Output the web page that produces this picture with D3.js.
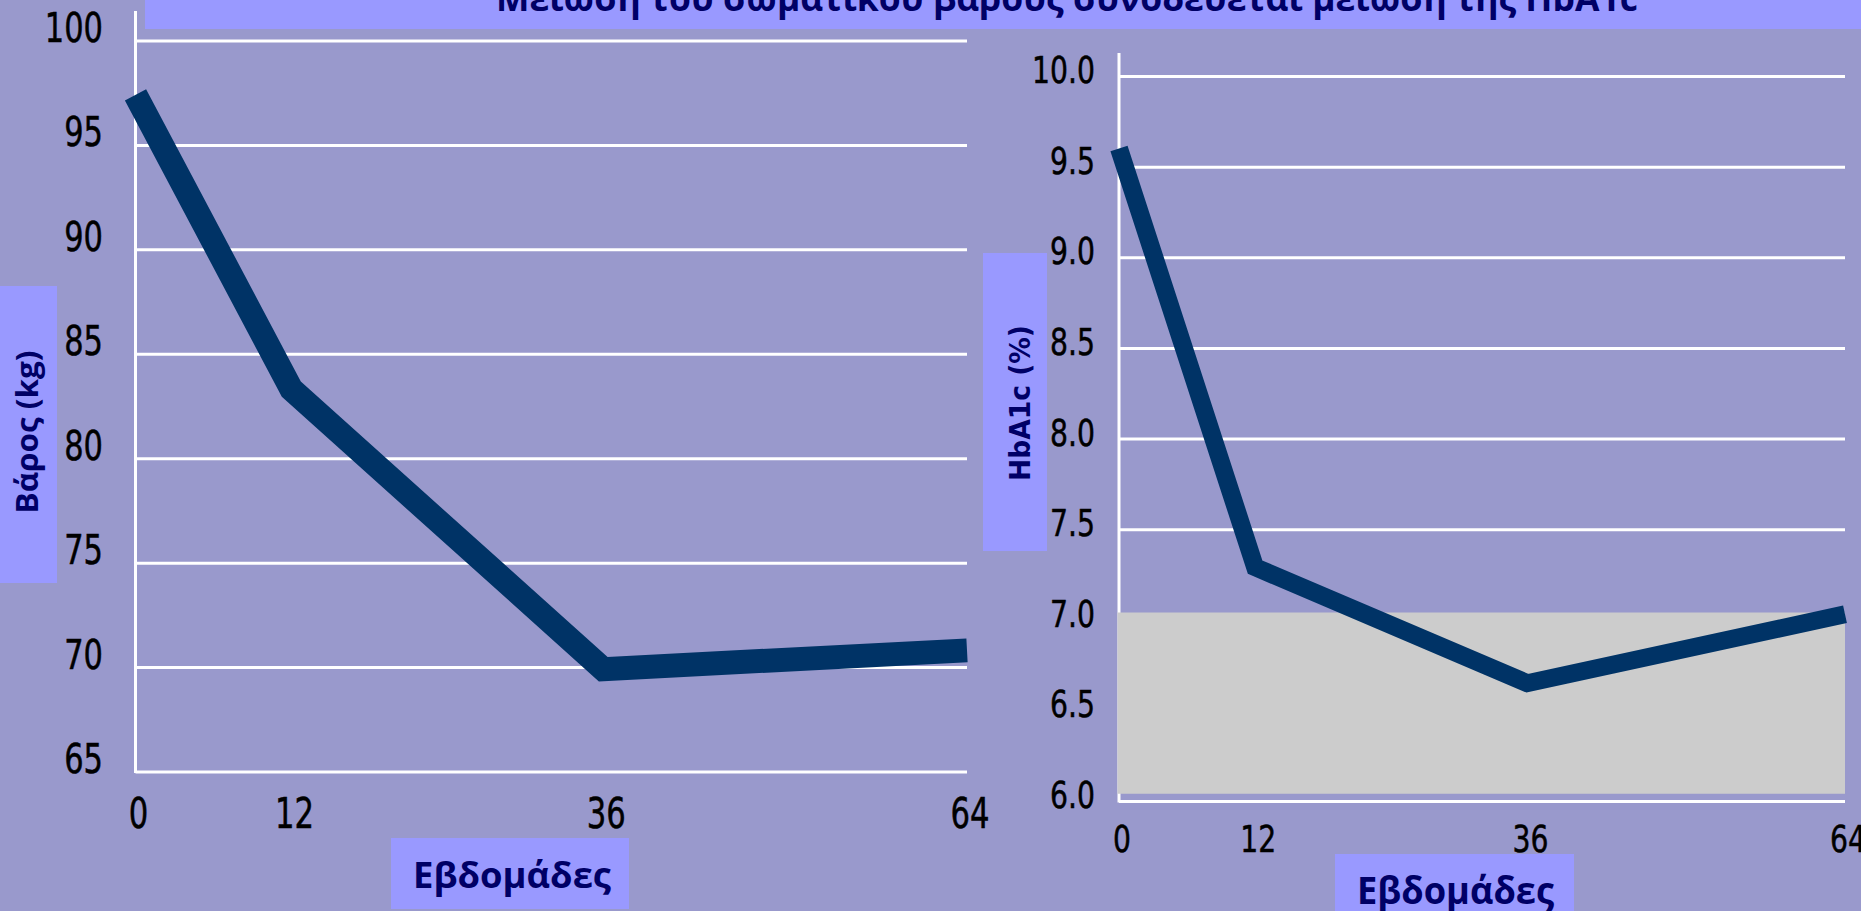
<!DOCTYPE html>
<html>
<head>
<meta charset="utf-8">
<script src="https://cdn.jsdelivr.net/npm/d3@7"></script>
<style>
  html, body { margin: 0; padding: 0; background: #9999cc; overflow: hidden; }
  svg { display: block; }
</style>
</head>
<body>
<svg id="chart" width="1861" height="911"></svg>
<script>
// ---- data ----
const weeks = [0, 12, 36, 64];
const weightKg = [97.4, 83.3, 69.9, 70.8];
const hba1cPct = [9.6, 7.29, 6.65, 7.03];
const weightTicks = [65, 70, 75, 80, 85, 90, 95, 100];
const hba1cTicks = [6.0, 6.5, 7.0, 7.5, 8.0, 8.5, 9.0, 9.5, 10.0];
const targetBand = [6.04, 7.04];   // shaded HbA1c target zone
const titleText = "Μείωση του σωματικού βάρους συνοδεύεται μείωση της HbA1c";
const weightLabel = "Βάρος (kg)";
const hba1cLabel = "HbA1c (%)";
const weeksLabel = "Εβδομάδες";

// ---- palette ----
const BG = "#9999cc", BOX = "#9999ff", NAVY = "#000066", LINE = "#003366", GRID = "#ffffff", BAND = "#cccccc";
const TITLE_FONT = "'Open Sans', 'Noto Sans', sans-serif";
const DIGIT_FONT = "'DejaVu Sans', Verdana, sans-serif";

const svg = d3.select("#chart");
svg.append("rect").attr("width", 1861).attr("height", 911).attr("fill", BG);

// ---- scales ----
const xL = d3.scaleLinear().domain([0, 64]).range([135.5, 967]);
const yL = d3.scaleLinear().domain([65, 100]).range([771.5, 40.5]);
const xR = d3.scaleLinear().domain([0, 64]).range([1119, 1845]);
const yR = d3.scaleLinear().domain([6, 10]).range([801, 76]);

// tall tick digits: text stretched vertically about its baseline
function scaledText(g, x, y, str, size, sy, anchor) {
  return g.append("g").attr("transform", `translate(${x},${y})`)
    .append("text")
    .attr("transform", `scale(1,${sy})`)
    .attr("text-anchor", anchor)
    .attr("font-family", DIGIT_FONT)
    .attr("font-size", size)
    .attr("fill", "#000")
    .attr("stroke", "#000")
    .attr("stroke-width", 0.4)
    .text(str);
}

function boxLabel(g, str, x, y, size, len, rotate, family) {
  return g.append("text")
    .attr("transform", `translate(${x},${y})` + (rotate ? " rotate(-90)" : ""))
    .attr("text-anchor", "middle")
    .attr("font-family", family || TITLE_FONT)
    .attr("font-weight", "bold")
    .attr("font-size", size)
    .attr("fill", NAVY)
    .attr("textLength", len)
    .attr("lengthAdjust", "spacingAndGlyphs")
    .text(str);
}

// ---- title ----
svg.append("rect").attr("x", 145).attr("y", 0).attr("width", 1716).attr("height", 29).attr("fill", BOX);
svg.append("text")
  .attr("x", 496).attr("y", 11)
  .attr("font-family", TITLE_FONT)
  .attr("font-weight", "bold")
  .attr("font-size", 36)
  .attr("fill", NAVY)
  .attr("textLength", 1142)
  .attr("lengthAdjust", "spacingAndGlyphs")
  .text(titleText);

// ================= left panel: body weight =================
const gL = svg.append("g");

// horizontal gridlines through the axis generator
gL.append("g")
  .attr("transform", `translate(${xL(0)},0)`)
  .call(d3.axisLeft(yL).tickValues(weightTicks).tickSize(-(xL(64) - xL(0))).tickFormat(""))
  .call(g => g.select(".domain").remove())
  .call(g => g.selectAll(".tick line").attr("stroke", GRID).attr("stroke-width", 3));

// vertical axis line
gL.append("line")
  .attr("x1", xL(0)).attr("x2", xL(0))
  .attr("y1", 11).attr("y2", yL(65) + 1.5)
  .attr("stroke", GRID).attr("stroke-width", 3);

weightTicks.forEach(v => scaledText(gL, 103, yL(v) + 1.5, String(v), 30.5, 1.35, "end"));
weeks.forEach(w => scaledText(gL, xL(w) + 3, 828, String(w), 30.7, 1.38, "middle"));

// weight curve
const lineL = d3.line().x((d, i) => xL(weeks[i])).y(d => yL(d));
gL.append("path")
  .datum(weightKg)
  .attr("d", lineL)
  .attr("fill", "none")
  .attr("stroke", LINE)
  .attr("stroke-width", 24)
  .attr("stroke-linejoin", "miter")
  .attr("stroke-linecap", "butt");

// axis titles
gL.append("rect").attr("x", 0).attr("y", 286).attr("width", 57).attr("height", 297).attr("fill", BOX);
boxLabel(gL, weightLabel, 38, 432, 31, 163, true);

gL.append("rect").attr("x", 391).attr("y", 838).attr("width", 238).attr("height", 71).attr("fill", BOX);
boxLabel(gL, weeksLabel, 512, 888, 35, 198, false);

// ================= right panel: HbA1c =================
const gR = svg.append("g");

gR.append("g")
  .attr("transform", `translate(${xR(0)},0)`)
  .call(d3.axisLeft(yR).tickValues(hba1cTicks).tickSize(-(xR(64) - xR(0))).tickFormat(""))
  .call(g => g.select(".domain").remove())
  .call(g => g.selectAll(".tick line").attr("stroke", GRID).attr("stroke-width", 3));

gR.append("line")
  .attr("x1", xR(0)).attr("x2", xR(0))
  .attr("y1", 53).attr("y2", yR(6) + 1.5)
  .attr("stroke", GRID).attr("stroke-width", 3);

// target zone
gR.append("rect")
  .attr("x", xR(0) - 1.5)
  .attr("y", yR(targetBand[1]))
  .attr("width", xR(64) - xR(0) + 1.5)
  .attr("height", yR(targetBand[0]) - yR(targetBand[1]))
  .attr("fill", BAND);

hba1cTicks.forEach(v => scaledText(gR, 1095, yR(v) + 7, v.toFixed(1), 28.3, 1.31, "end"));
weeks.forEach(w => scaledText(gR, xR(w) + 3, 852, String(w), 28.3, 1.31, "middle"));

const lineR = d3.line().x((d, i) => xR(weeks[i])).y(d => yR(d));
gR.append("path")
  .datum(hba1cPct)
  .attr("d", lineR)
  .attr("fill", "none")
  .attr("stroke", LINE)
  .attr("stroke-width", 18)
  .attr("stroke-linejoin", "miter")
  .attr("stroke-linecap", "butt");

gR.append("rect").attr("x", 983).attr("y", 253).attr("width", 64).attr("height", 298).attr("fill", BOX);
boxLabel(gR, hba1cLabel, 1030, 403, 28, 156, true, "'DejaVu Sans', Verdana, sans-serif");

gR.append("rect").attr("x", 1335).attr("y", 854).attr("width", 239).attr("height", 57).attr("fill", BOX);
boxLabel(gR, weeksLabel, 1455.5, 904, 38, 197, false);
</script>
</body>
</html>
